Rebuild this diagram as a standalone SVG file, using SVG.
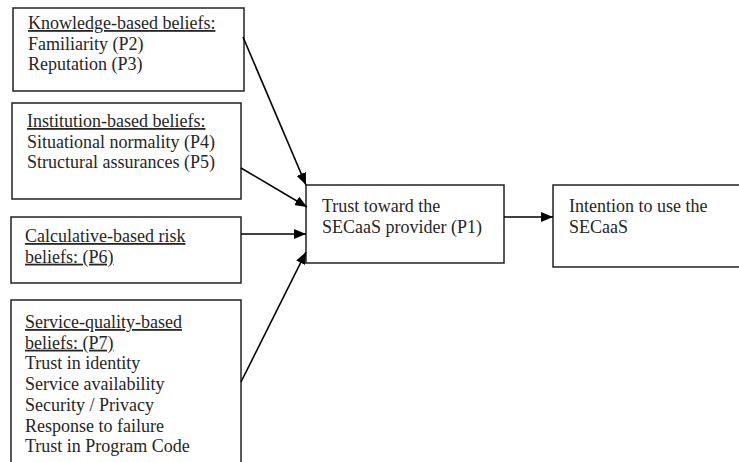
<svg xmlns="http://www.w3.org/2000/svg" width="739" height="462" viewBox="0 0 739 462">
<style>
.box{fill:#fff;stroke:#222;stroke-width:1.5}
.t{font-family:"Liberation Serif","Times New Roman",serif;font-size:18px;fill:#262626}
.u{text-decoration:underline}
.c{stroke:#000;stroke-width:1.6;fill:none}
</style>
<defs>
<marker id="ah" markerWidth="12" markerHeight="10" refX="12" refY="5" orient="auto" markerUnits="userSpaceOnUse">
<path d="M0,0 L12,5 L0,10 Z" fill="#000"/>
</marker>
</defs>
<rect width="739" height="462" fill="#fff"/>
<g id="knowledge">
<rect class="box" x="13" y="8" width="231" height="83"/>
<text class="t"><tspan class="u" x="28" y="29">Knowledge-based beliefs:</tspan><tspan x="28" y="49.7">Familiarity (P2)</tspan><tspan x="28" y="70.4">Reputation (P3)</tspan></text>
</g>
<g id="institution">
<rect class="box" x="12" y="103" width="229" height="96"/>
<text class="t"><tspan class="u" x="27" y="127">Institution-based beliefs:</tspan><tspan x="27" y="147.7">Situational normality (P4)</tspan><tspan x="27" y="168.4">Structural assurances (P5)</tspan></text>
</g>
<g id="calculative">
<rect class="box" x="11" y="217" width="230" height="66"/>
<text class="t"><tspan class="u" x="25" y="242">Calculative-based risk</tspan><tspan class="u" x="25" y="262.7">beliefs: (P6)</tspan></text>
</g>
<g id="servicequality">
<rect class="box" x="11" y="300" width="230" height="175"/>
<text class="t"><tspan class="u" x="25" y="328">Service-quality-based</tspan><tspan class="u" x="25" y="348.7">beliefs: (P7)</tspan><tspan x="25" y="369.4">Trust in identity</tspan><tspan x="25" y="390.1">Service availability</tspan><tspan x="25" y="410.8">Security / Privacy</tspan><tspan x="25" y="431.5">Response to failure</tspan><tspan x="25" y="452.2">Trust in Program Code</tspan></text>
</g>
<g id="trust">
<rect class="box" x="306" y="185" width="198" height="78"/>
<text class="t"><tspan x="322" y="212">Trust toward the</tspan><tspan x="322" y="233">SECaaS provider (P1)</tspan></text>
</g>
<g id="intention">
<rect class="box" x="553" y="185" width="200" height="82"/>
<text class="t"><tspan x="569" y="212">Intention to use the</tspan><tspan x="569" y="233">SECaaS</tspan></text>
</g>
<g id="connectors">
<line class="c" x1="243" y1="37" x2="306" y2="185" marker-end="url(#ah)"/>
<line class="c" x1="241" y1="168" x2="307" y2="207" marker-end="url(#ah)"/>
<line class="c" x1="241" y1="234" x2="306" y2="234" marker-end="url(#ah)"/>
<line class="c" x1="241" y1="382" x2="306" y2="252" marker-end="url(#ah)"/>
<line class="c" x1="504" y1="217" x2="553" y2="217" marker-end="url(#ah)"/>
</g>
</svg>
